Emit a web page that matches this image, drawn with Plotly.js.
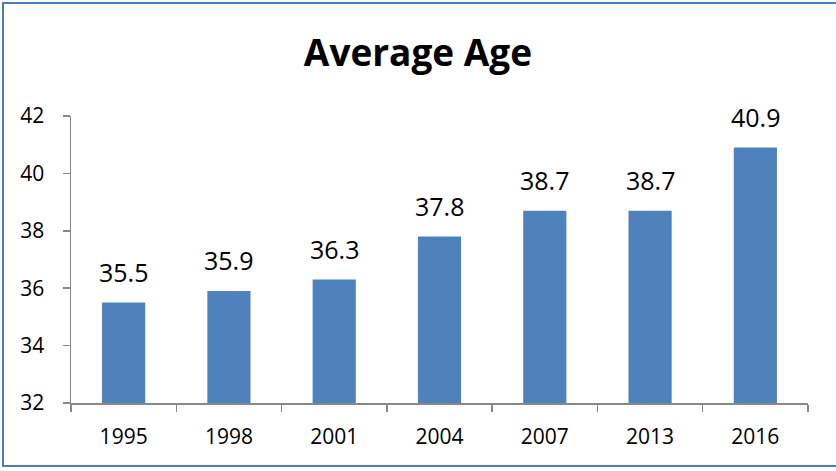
<!DOCTYPE html>
<html>
<head>
<meta charset="utf-8">
<script src="https://cdn.plot.ly/plotly-3.0.1.min.js"></script>
<style>
  html, body { margin: 0; padding: 0; background: #fff; }
  #wrap { position: relative; width: 836px; height: 471px; overflow: hidden; }
  #chart { width: 836px; height: 471px; }
  #frame { position: absolute; left: 2px; top: 2px; width: 850px; height: 465px;
           border: 2px solid #4a7ebb; box-sizing: border-box; pointer-events: none; }
</style>
</head>
<body>
<div id="wrap">
  <div id="chart"></div>
  <div id="frame"></div>
</div>
<script>
const years = ["1995", "1998", "2001", "2004", "2007", "2013", "2016"];
const averageAge = [35.5, 35.9, 36.3, 37.8, 38.7, 38.7, 40.9];
const yTicks = [32, 34, 36, 38, 40, 42];

const labelFont = "Open Sans, Liberation Sans, sans-serif";

const trace = {
  type: "bar",
  x: years,
  y: averageAge,
  marker: { color: "#4f81bd" },
  hoverinfo: "x+y"
};

const annotations = years.map((yr, i) => ({
  x: i,
  y: averageAge[i],
  xref: "x",
  yref: "y",
  text: averageAge[i].toFixed(1),
  showarrow: false,
  yanchor: "bottom",
  yshift: 12,
  font: { family: labelFont, size: 25, color: "#000" }
}));

const layout = {
  width: 836,
  height: 471,
  margin: { l: 71, r: 28, t: 116, b: 68 },
  paper_bgcolor: "#fff",
  plot_bgcolor: "#fff",
  bargap: 0.59,
  showlegend: false,
  title: {
    text: "<b>Average Age</b>",
    x: 0.5,
    xanchor: "center",
    y: 0.888,
    yanchor: "middle",
    font: { family: labelFont, size: 37, color: "#000" }
  },
  xaxis: {
    type: "category",
    range: [-0.5, 6.5],
    showline: true,
    linecolor: "#888",
    linewidth: 1.5,
    ticks: "outside",
    tickson: "boundaries",
    ticklen: 7,
    tickcolor: "#888",
    tickwidth: 1.5,
    ticklabelstandoff: 14,
    showgrid: false,
    zeroline: false,
    tickfont: { family: labelFont, size: 21, color: "#000" }
  },
  yaxis: {
    range: [32, 42],
    tickvals: yTicks,
    ticktext: yTicks.map(String),
    showline: true,
    linecolor: "#888",
    linewidth: 1.5,
    ticks: "outside",
    ticklen: 7,
    tickcolor: "#888",
    tickwidth: 1.5,
    ticklabelstandoff: 14,
    showgrid: false,
    zeroline: false,
    tickfont: { family: labelFont, size: 21, color: "#000" }
  },
  annotations: annotations
};

Plotly.newPlot("chart", [trace], layout, { displayModeBar: false, staticPlot: true });
</script>
</body>
</html>
